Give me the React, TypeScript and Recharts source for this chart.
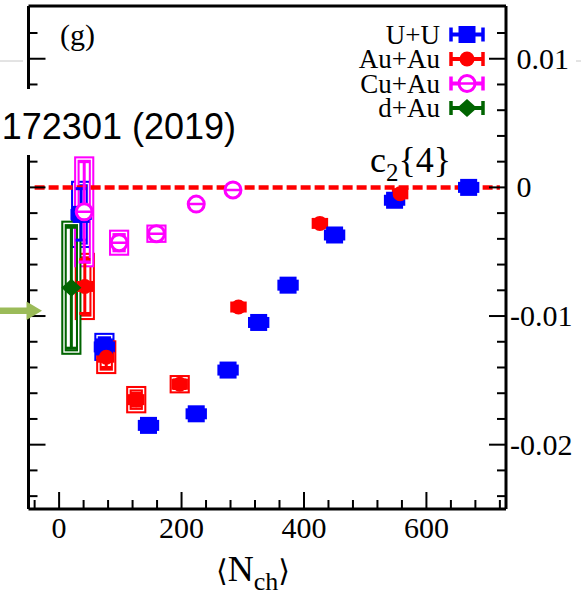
import React from 'react';
import {
  ComposedChart,
  Scatter,
  XAxis,
  YAxis,
  ErrorBar,
  ReferenceArea,
  ReferenceLine,
  Legend,
} from 'recharts';

// ---- axes ----
const X_DOMAIN: [number, number] = [-50, 730];
const Y_DOMAIN: [number, number] = [-0.025, 0.0141];
const X_TICKS = [-40, 0, 40, 80, 120, 160, 200, 240, 280, 320, 360, 400, 440, 480, 520, 560, 600, 640, 680, 720];
const X_MAJOR = [0, 200, 400, 600];
const X_LABELS = ['0', '200', '400', '600'];
const Y_TICKS = [
  -0.024, -0.022, -0.02, -0.018, -0.016, -0.014, -0.012, -0.01, -0.008, -0.006,
  -0.004, -0.002, 0, 0.002, 0.004, 0.006, 0.008, 0.01, 0.012,
];
const Y_MAJOR = [-0.02, -0.01, 0, 0.01];
const Y_LABELS = ['-0.02', '-0.01', '0', '0.01'];

// ---- c2{4} vs <Nch> ----
// U+U
const UU_NCH = [36, 74, 146, 224, 276, 326, 374, 450, 548, 669];
const UU_C24 = [-0.0021, -0.0124, -0.0185, -0.0176, -0.0142, -0.0105, -0.0076, -0.0037, -0.001, 0.0];
const UU_STAT = [0.002, 0.0006, 0.0003, 0.0003, 0.0003, 0.0003, 0.0003, 0.0003, 0.0003, 0.0003];
const UU_SYS = [0.0024, 0.00088, 0, 0, 0, 0, 0, 0, 0, 0];

// Au+Au
const AUAU_NCH = [42, 77, 126, 197, 293, 426, 557];
const AUAU_C24 = [-0.0077, -0.0132, -0.0165, -0.0153, -0.0093, -0.0028, -0.0005];
const AUAU_STAT = [0.0021, 0.0008, 0.0005, 0.0003, 0.0003, 0.0003, 0.0003];
const AUAU_SYS = [0.0024, 0.0011, 0.00085, 0.0005, 0, 0, 0];

// Cu+Au
const CUAU_NCH = [41, 98, 159, 224, 284];
const CUAU_C24 = [-0.0019, -0.0043, -0.0036, -0.0013, -0.0002];
const CUAU_STAT = [0.0039, 0.0006, 0.0003, 0.0003, 0.0003];
const CUAU_SYS = [0.0041, 0.0008, 0.0005, 0, 0];

// d+Au
const DAU_NCH = [20];
const DAU_C24 = [-0.0078];
const DAU_STAT = [0.0047];
const DAU_SYS = [0.005];

// multiplicity uncertainty drawn as horizontal bars
const UU_NCH_ERR = 15;
const AUAU_NCH_ERR = 11;

// half width of the systematic boxes, in Nch units
const BOX_HALF = 12;

const SERIF = '"Liberation Serif", "Times New Roman", serif';
const SANS = '"Liberation Sans", Arial, sans-serif';

type Row = { nch: number; c24: number; stat: number; sys: number; nchErr: number };

const rows = (nch: number[], c24: number[], stat: number[], sys: number[], nchErr: number): Row[] =>
  nch.map((n, i) => ({ nch: n, c24: c24[i], stat: stat[i], sys: sys[i], nchErr }));

type Kind = 'square' | 'circle' | 'open' | 'diamond';

const SERIES: { name: string; color: string; kind: Kind; data: Row[]; xErr: boolean }[] = [
  { name: 'U+U', color: '#0000ff', kind: 'square', data: rows(UU_NCH, UU_C24, UU_STAT, UU_SYS, UU_NCH_ERR), xErr: true },
  { name: 'Au+Au', color: '#ff0000', kind: 'circle', data: rows(AUAU_NCH, AUAU_C24, AUAU_STAT, AUAU_SYS, AUAU_NCH_ERR), xErr: true },
  { name: 'Cu+Au', color: '#ff00ff', kind: 'open', data: rows(CUAU_NCH, CUAU_C24, CUAU_STAT, CUAU_SYS, 0), xErr: false },
  { name: 'd+Au', color: '#006400', kind: 'diamond', data: rows(DAU_NCH, DAU_C24, DAU_STAT, DAU_SYS, 0), xErr: false },
];

const near = (a: number, b: number) => Math.abs(a - b) < 1e-9;
const majorIndex = (list: number[], v: number) => list.findIndex((m) => near(m, v));

const MAJOR_LEN = 17;
const MINOR_LEN = 9;

function BottomTick(p: any) {
  const { x, y, payload } = p;
  const idx = majorIndex(X_MAJOR, payload.value);
  const len = idx >= 0 ? MAJOR_LEN : MINOR_LEN;
  return (
    <g>
      <line x1={x} x2={x} y1={y} y2={y - len} stroke="#000" strokeWidth={2} />
      {idx >= 0 && (
        <text x={x} y={y + 28.5} textAnchor="middle" fontFamily={SERIF} fontSize={30} fill="#000">
          {X_LABELS[idx]}
        </text>
      )}
    </g>
  );
}

function TopTick(p: any) {
  const { x, y, payload } = p;
  const len = majorIndex(X_MAJOR, payload.value) >= 0 ? MAJOR_LEN : MINOR_LEN;
  return <line x1={x} x2={x} y1={y} y2={y + len} stroke="#000" strokeWidth={2} />;
}

function LeftTick(p: any) {
  const { x, y, payload } = p;
  const len = majorIndex(Y_MAJOR, payload.value) >= 0 ? MAJOR_LEN : MINOR_LEN;
  return <line x1={x} x2={x + len} y1={y} y2={y} stroke="#000" strokeWidth={2} />;
}

function RightTick(p: any) {
  const { x, y, payload } = p;
  const idx = majorIndex(Y_MAJOR, payload.value);
  const len = idx >= 0 ? MAJOR_LEN : MINOR_LEN;
  const neg = payload.value < 0;
  return (
    <g>
      <line x1={x} x2={x - len} y1={y} y2={y} stroke="#000" strokeWidth={2} />
      {idx >= 0 && (
        <text x={x + (neg ? 4 : 10.5)} y={y + 10} textAnchor="start" fontFamily={SERIF} fontSize={30} fill="#000">
          {Y_LABELS[idx]}
        </text>
      )}
    </g>
  );
}

const boxShape = (color: string) => (p: any) => {
  const { x, y, width, height } = p;
  return (
    <g>
      <rect x={x} y={y} width={width} height={height} fill="none" stroke={color} strokeWidth={5.5} />
      <rect x={x} y={y} width={width} height={height} fill="none" stroke="#fff" strokeWidth={1.4} />
    </g>
  );
};

function Marker({ kind, color, cx, cy }: { kind: Kind; color: string; cx: number; cy: number }) {
  if (kind === 'square') return <rect x={cx - 8.5} y={cy - 8.5} width={17} height={17} fill={color} />;
  if (kind === 'circle') return <circle cx={cx} cy={cy} r={7.5} fill={color} />;
  if (kind === 'open')
    return (
      <g>
        <circle cx={cx} cy={cy} r={8} fill="#fff" stroke={color} strokeWidth={3} />
        <line x1={cx - 8} x2={cx + 8} y1={cy} y2={cy} stroke={color} strokeWidth={2.5} />
      </g>
    );
  return (
    <polygon
      points={`${cx - 10},${cy} ${cx},${cy - 9} ${cx + 10},${cy} ${cx},${cy + 9}`}
      fill={color}
    />
  );
}

const markerShape = (kind: Kind, color: string) => (p: any) => (
  <Marker kind={kind} color={color} cx={p.cx} cy={p.cy} />
);

function LegendContent(props: any) {
  const items: any[] = props.payload || [];
  const shown = SERIES.filter((s) => items.some((e) => e.value === s.name));
  return (
    <svg width={180} height={105} style={{ display: 'block', overflow: 'visible' }}>
      {shown.map((s, i) => {
        const cy = 16.5 + i * 24.5;
        const cx = 137;
        return (
          <g key={s.name}>
            <text x={110} y={cy + 9} textAnchor="end" fontFamily={SERIF} fontSize={27} fill="#000">
              {s.name}
            </text>
            <line x1={cx - 16} x2={cx + 16} y1={cy} y2={cy} stroke={s.color} strokeWidth={4} />
            <line x1={cx - 16} x2={cx - 16} y1={cy - 7} y2={cy + 7} stroke={s.color} strokeWidth={3.5} />
            <line x1={cx + 16} x2={cx + 16} y1={cy - 7} y2={cy + 7} stroke={s.color} strokeWidth={3.5} />
            <Marker kind={s.kind} color={s.color} cx={cx} cy={cy} />
          </g>
        );
      })}
    </svg>
  );
}

const AXIS_LINE = { stroke: '#000', strokeWidth: 3 };

export default function App() {
  return (
    <div style={{ position: 'absolute', left: 0, top: 0, width: 581, height: 595, background: '#fff' }}>
      <ComposedChart width={581} height={595} margin={{ top: 5, right: 74, bottom: 85, left: 27.5 }}>
        <XAxis
          xAxisId="x"
          type="number"
          dataKey="nch"
          orientation="bottom"
          domain={X_DOMAIN}
          allowDataOverflow
          ticks={X_TICKS}
          interval={0}
          height={1}
          tickSize={0}
          tickMargin={0}
          tickLine={false}
          axisLine={AXIS_LINE}
          tick={(p: any) => <BottomTick {...p} />}
        />
        <XAxis
          xAxisId="xt"
          type="number"
          orientation="top"
          domain={X_DOMAIN}
          allowDataOverflow
          ticks={X_TICKS}
          interval={0}
          height={1}
          tickSize={0}
          tickMargin={0}
          tickLine={false}
          axisLine={AXIS_LINE}
          tick={(p: any) => <TopTick {...p} />}
        />
        <YAxis
          yAxisId="y"
          type="number"
          dataKey="c24"
          orientation="right"
          domain={Y_DOMAIN}
          allowDataOverflow
          ticks={Y_TICKS}
          interval={0}
          width={1}
          tickSize={0}
          tickMargin={0}
          tickLine={false}
          axisLine={AXIS_LINE}
          tick={(p: any) => <RightTick {...p} />}
        />
        <YAxis
          yAxisId="yl"
          type="number"
          orientation="left"
          domain={Y_DOMAIN}
          allowDataOverflow
          ticks={Y_TICKS}
          interval={0}
          width={1}
          tickSize={0}
          tickMargin={0}
          tickLine={false}
          axisLine={AXIS_LINE}
          tick={(p: any) => <LeftTick {...p} />}
        />

        <ReferenceLine
          xAxisId="x"
          yAxisId="y"
          segment={[{ x: -40, y: 0 }, { x: 720, y: 0 }]}
          stroke="#ff0000"
          strokeWidth={4.5}
          strokeDasharray="10 4"
          ifOverflow="visible"
        />

        {SERIES.map((s) =>
          s.data
            .filter((d) => d.sys > 0)
            .map((d, i) => (
              <ReferenceArea
                key={`${s.name}-box-${i}`}
                xAxisId="x"
                yAxisId="y"
                x1={d.nch - BOX_HALF}
                x2={d.nch + BOX_HALF}
                y1={d.c24 - d.sys}
                y2={d.c24 + d.sys}
                ifOverflow="visible"
                shape={boxShape(s.color)}
              />
            ))
        )}

        {SERIES.map((s) => (
          <Scatter
            key={s.name}
            name={s.name}
            data={s.data}
            xAxisId="x"
            yAxisId="y"
            fill={s.color}
            isAnimationActive={false}
            shape={markerShape(s.kind, s.color)}
          >
            <ErrorBar dataKey="stat" direction="y" width={5.5} strokeWidth={3} stroke={s.color} isAnimationActive={false} />
            {s.xErr && (
              <ErrorBar dataKey="nchErr" direction="x" width={5.5} strokeWidth={3} stroke={s.color} isAnimationActive={false} />
            )}
          </Scatter>
        ))}

        <Legend
          layout="vertical"
          align="center"
          verticalAlign="middle"
          wrapperStyle={{ left: 330, top: 18, width: 180, height: 105 }}
          content={(p: any) => <LegendContent {...p} />}
        />
      </ComposedChart>

      <svg
        width={581}
        height={595}
        style={{ position: 'absolute', left: 0, top: 0, pointerEvents: 'none', overflow: 'visible' }}
      >
        {/* slide guide line */}
        <line x1={0} x2={23} y1={61} y2={61} stroke="#c8c8c8" strokeWidth={1} />
        <line x1={576} x2={581} y1={61} y2={61} stroke="#c8c8c8" strokeWidth={1} />

        {/* citation box */}
        <rect x={0} y={89} width={245} height={66} fill="#fff" />
        <text x={236} y={138.5} textAnchor="end" fontFamily={SANS} fontSize={36} fill="#000">
          172301 (2019)
        </text>

        {/* pointer arrow */}
        <rect x={0} y={307.5} width={28} height={6.5} fill="#9bbb59" />
        <polygon points="26.5,301.5 42,310.8 26.5,320" fill="#9bbb59" />

        {/* panel tag */}
        <text x={60} y={45} fontFamily={SERIF} fontSize={30} fill="#000">
          (g)
        </text>

        {/* observable name */}
        <text x={370} y={172} fontFamily={SERIF} fontSize={36} fill="#000">
          c
          <tspan fontSize={25} dy={9}>2</tspan>
          <tspan fontSize={36} dy={-9}>{'{4}'}</tspan>
        </text>

        {/* x-axis title */}
        <text x={216} y={581} fontFamily={SERIF} fontSize={36} fill="#000">
          <tspan fontFamily={'"DejaVu Serif", serif'} fontSize={30}>⟨</tspan>
          <tspan>N</tspan>
          <tspan fontSize={26} dy={9}>ch</tspan>
          <tspan fontFamily={'"DejaVu Serif", serif'} fontSize={30} dy={-9}>⟩</tspan>
        </text>
      </svg>
    </div>
  );
}
